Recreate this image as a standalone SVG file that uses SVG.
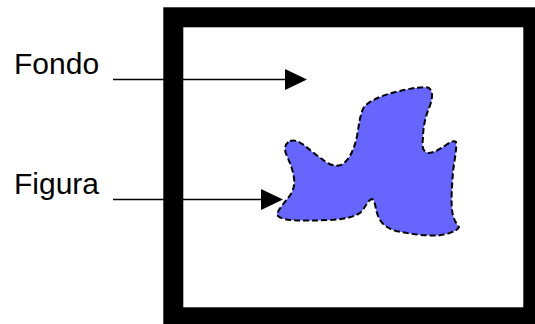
<svg xmlns="http://www.w3.org/2000/svg" width="535" height="324" viewBox="0 0 535 324">
  <style>
    .label { font-family: "Liberation Sans", Arial, sans-serif; font-size: 30px; fill: #000; }
    .conn { stroke: #000; stroke-width: 1.4; fill: none; }
    .head { fill: #000; }
  </style>
  <rect width="535" height="324" fill="#fff"/>
  <!-- thick picture frame (runs past the right and bottom edges) -->
  <g id="frame">
    <rect x="173.3" y="17.3" width="360" height="300" fill="#fff" stroke="#000" stroke-width="20"/>
  </g>
  <!-- figure shape -->
  <g id="figure">
    <path d="M290,141 C296,139 300,143 304,145 C310,150 316,155 322,159 C328,164 334,167 341,165 C349,161 354,150 357,136 C359,125 360,114 364,107 C372,98 390,93 404,90 C414,88 424,86 429,88 C434,92 432,101 429,108 C425,118 423,128 423,138 C422,146 422,151 428,153 C434,153 440,149 446,145 C450,142 454,140 456,142 C457,150 454,162 453,172 C452,185 451,198 452,210 C453,218 455,222 459,227 C456,232 448,234 438,235.5 C425,236 410,234 396,231 C386,228 380,223 377,213 C375,206 375,200 372,199 C368,200 366,206 362,211 C356,217 345,219 330,220 C315,220.5 302,221 290,220 C282,219 277,217 277,214 C279,209 284,203 288,198 C293,192 295,186 294,178 C293,170 290,163 287,156 C284,150 284,144 290,141 Z" fill="#6666ff" stroke="#000" stroke-width="2" stroke-dasharray="6 3"/>
  </g>
  <!-- labels -->
  <g id="fondo">
    <text class="label" x="14" y="74">Fondo</text>
  </g>
  <g id="figura">
    <text class="label" x="14" y="194">Figura</text>
  </g>
  <!-- pointer arrows -->
  <g id="connectors">
    <line class="conn" x1="113" y1="79.5" x2="287" y2="79.5"/>
    <polygon class="head" points="285,69 307,79.5 285,90"/>
    <line class="conn" x1="113" y1="199.5" x2="263" y2="199.5"/>
    <polygon class="head" points="261,189 283,199.5 261,210"/>
  </g>
</svg>
